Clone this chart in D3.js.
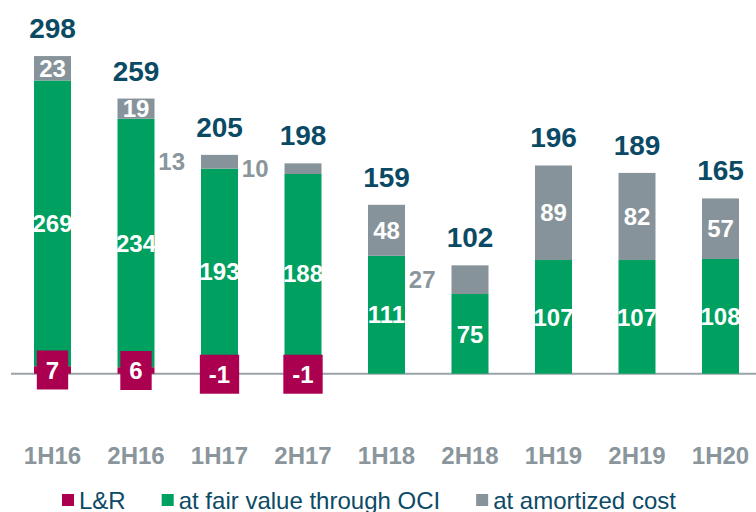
<!DOCTYPE html>
<html>
<head>
<meta charset="utf-8">
<script src="https://cdn.jsdelivr.net/npm/d3@7"></script>
<style>
  body { margin: 0; background: #fff; }
  svg { display: block; font-family: Arial, "Liberation Sans", sans-serif; }
</style>
</head>
<body>
<svg id="chart" width="756" height="512"></svg>
<script>
// data
const periods = ['1H16', '2H16', '1H17', '2H17', '1H18', '2H18', '1H19', '2H19', '1H20'];
const loansReceivables = [7, 6, -1, -1, 0, 0, 0, 0, 0];
const fairValueOCI = [269, 234, 193, 188, 111, 75, 107, 107, 108];
const amortizedCost = [23, 19, 13, 10, 48, 27, 89, 82, 57];
const totals = [298, 259, 205, 198, 159, 102, 196, 189, 165];
// amortized-cost labels that sit left of the bar instead of inside
const amortOutside = ['1H17', '2H17', '2H18'];

const seriesNames = ['L&R', 'at fair value through OCI', 'at amortized cost'];
const colors = { red: '#ab0050', green: '#00a060', gray: '#87939a' };
const seriesColors = [colors.red, colors.green, colors.gray];

const svg = d3.select('#chart');

const x = d3.scaleBand()
  .domain(periods)
  .range([10.75, 762.25])
  .paddingInner(0.557)
  .paddingOuter(0.2785);

const y = d3.scaleLinear().domain([0, 300]).range([373.7, 55]);

// baseline
svg.append('line')
  .attr('x1', 11).attr('x2', 756)
  .attr('y1', y(0)).attr('y2', y(0))
  .attr('stroke', '#9aa3a9')
  .attr('stroke-width', 2);

const rows = periods.map((p, i) => {
  const lr = loansReceivables[i];
  const lrStart = lr >= 0 ? 0 : lr;
  const lrEnd = lr >= 0 ? lr : 0;
  const gStart = Math.max(lr, 0);
  const gEnd = gStart + fairValueOCI[i];
  const aEnd = gEnd + amortizedCost[i];
  return { p, i, lr, lrStart, lrEnd, gStart, gEnd, aEnd };
});

const g = svg.append('g');

// bars: green then gray then red
g.selectAll('rect.green').data(rows).enter().append('rect')
  .attr('class', 'green')
  .attr('x', d => x(d.p)).attr('width', x.bandwidth())
  .attr('y', d => y(d.gEnd)).attr('height', d => y(d.gStart) - y(d.gEnd))
  .attr('fill', colors.green);

g.selectAll('rect.gray').data(rows).enter().append('rect')
  .attr('class', 'gray')
  .attr('x', d => x(d.p)).attr('width', x.bandwidth())
  .attr('y', d => y(d.aEnd)).attr('height', d => y(d.gEnd) - y(d.aEnd))
  .attr('fill', colors.gray);

g.selectAll('rect.red').data(rows.filter(d => d.lr !== 0)).enter().append('rect')
  .attr('class', 'red')
  .attr('x', d => x(d.p)).attr('width', x.bandwidth())
  .attr('y', d => y(d.lrEnd)).attr('height', d => y(d.lrStart) - y(d.lrEnd))
  .attr('fill', colors.red);

const cx = d => x(d.p) + x.bandwidth() / 2;

// green segment labels
g.selectAll('text.glab').data(rows).enter().append('text')
  .attr('x', cx)
  .attr('y', d => (y(d.gStart) + y(d.gEnd)) / 2)
  .attr('dy', '0.36em')
  .attr('text-anchor', 'middle')
  .attr('fill', '#fff')
  .attr('font-size', 24).attr('font-weight', 'bold')
  .text(d => fairValueOCI[d.i]);

// gray segment labels
g.selectAll('text.alab').data(rows).enter().append('text')
  .attr('x', d => amortOutside.includes(d.p) ? x(d.p) - 16 : cx(d))
  .attr('y', d => (y(d.gEnd) + y(d.aEnd)) / 2)
  .attr('dy', '0.36em')
  .attr('text-anchor', d => amortOutside.includes(d.p) ? 'end' : 'middle')
  .attr('fill', d => amortOutside.includes(d.p) ? '#8a969c' : '#fff')
  .attr('font-size', 24).attr('font-weight', 'bold')
  .text(d => amortizedCost[d.i]);

// L&R labels in red boxes
const lrRows = rows.filter(d => d.lr !== 0);
const lrLab = g.selectAll('g.lr').data(lrRows).enter().append('g')
  .attr('transform', d => `translate(${cx(d)},${(y(d.lrStart) + y(d.lrEnd)) / 2})`);
lrLab.append('text')
  .attr('text-anchor', 'middle')
  .attr('dy', '0.36em')
  .attr('fill', '#fff')
  .attr('font-size', 24).attr('font-weight', 'bold')
  .text(d => d.lr);
lrLab.each(function() {
  const grp = d3.select(this);
  const w = grp.select('text').node().getComputedTextLength() + 18;
  grp.insert('rect', 'text')
    .attr('x', -w / 2).attr('y', -19.5)
    .attr('width', w).attr('height', 39)
    .attr('fill', colors.red);
});

// totals
g.selectAll('text.tot').data(rows).enter().append('text')
  .attr('x', cx)
  .attr('y', d => y(d.aEnd) - 18)
  .attr('text-anchor', 'middle')
  .attr('fill', '#0b4a64')
  .attr('font-size', 28).attr('font-weight', 'bold')
  .text(d => totals[d.i]);

// category axis
const xAxis = svg.append('g')
  .attr('transform', 'translate(0,464)')
  .call(d3.axisBottom(x).tickSize(0).tickPadding(0));
xAxis.select('.domain').remove();
xAxis.selectAll('text')
  .attr('dy', 0)
  .attr('fill', '#8a969c')
  .attr('font-size', 24)
  .attr('font-weight', 'bold')
  .attr('font-family', 'Arial, "Liberation Sans", sans-serif');

// legend
const legend = svg.append('g').attr('transform', 'translate(62,500)');
let lx = 0;
seriesNames.forEach((name, i) => {
  const item = legend.append('g').attr('transform', `translate(${lx},0)`);
  item.append('rect')
    .attr('x', 0).attr('y', -6)
    .attr('width', 12).attr('height', 12)
    .attr('fill', seriesColors[i]);
  const t = item.append('text')
    .attr('x', 17).attr('dy', '0.36em')
    .attr('fill', '#0d4a66')
    .attr('font-size', 24)
    .text(name);
  lx += 17 + t.node().getComputedTextLength() + 36;
});
</script>
</body>
</html>
